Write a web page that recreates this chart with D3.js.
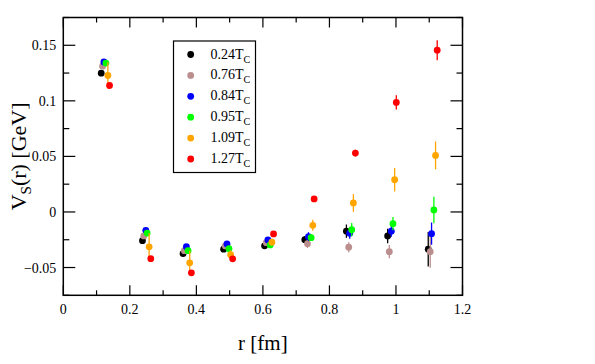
<!DOCTYPE html>
<html>
<head>
<meta charset="utf-8">
<script src="https://cdn.jsdelivr.net/npm/d3@7"></script>
<style>
  body { margin: 0; background: #fff; }
</style>
</head>
<body>
<script>
// temperatures (legend labels) and marker colours
let temps = ["0.24", "0.76", "0.84", "0.95", "1.09", "1.27"];
let colors = ["#000000", "#bc8f8f", "#0000ff", "#00ff00", "#ffa500", "#ff0000"];

// r [fm] for each series
let r_black  = [0.114, 0.238, 0.360, 0.482, 0.605, 0.726, 0.851, 0.975, 1.097];
let r_brown  = [0.118, 0.242, 0.364, 0.487, 0.610, 0.734, 0.858, 0.980, 1.103];
let r_blue   = [0.122, 0.248, 0.370, 0.492, 0.615, 0.737, 0.861, 0.986, 1.107];
let r_green  = [0.128, 0.252, 0.375, 0.498, 0.622, 0.745, 0.867, 0.991, 1.114];
let r_orange = [0.134, 0.258, 0.380, 0.503, 0.627, 0.750, 0.872, 0.996, 1.119];
let r_red    = [0.139, 0.263, 0.385, 0.509, 0.632, 0.754, 0.878, 1.001, 1.124];

// V_S(r) [GeV]
let v_black  = [0.1249, -0.0258, -0.0375, -0.0335, -0.0305, -0.0249, -0.0173, -0.0216, -0.0335];
let v_brown  = [0.1312, -0.0216, -0.0348, -0.0306, -0.0276, -0.0285, -0.0317, -0.0357, -0.0357];
let v_blue   = [0.1350, -0.0165, -0.0312, -0.0288, -0.0252, -0.0222, -0.0191, -0.0173, -0.0195];
let v_green  = [0.1340, -0.0190, -0.0348, -0.0330, -0.0297, -0.0231, -0.0159, -0.0105, 0.0018];
let v_orange = [0.1228, -0.0314, -0.0458, -0.0384, -0.0272, -0.0120, 0.0081, 0.0290, 0.0509];
let v_red    = [0.1138, -0.0420, -0.0548, -0.0422, -0.0198, 0.0117, 0.0530, 0.0986, 0.1456];

// error bars (half length)
let e_black  = [0.002, 0.002, 0.002, 0.002, 0.002, 0.003, 0.006, 0.0065, 0.0155];
let e_brown  = [0.002, 0.002, 0.002, 0.002, 0.002, 0.004, 0.0045, 0.006, 0.0145];
let e_blue   = [0.002, 0.002, 0.002, 0.002, 0.002, 0.004, 0.005, 0.005, 0.010];
let e_green  = [0.002, 0.002, 0.002, 0.002, 0.002, 0.003, 0.006, 0.006, 0.012];
let e_orange = [0.012, 0.0125, 0.011, 0.004, 0.003, 0.005, 0.008, 0.0105, 0.0125];
let e_red    = [0.002, 0.002, 0.002, 0.002, 0.002, 0.002, 0.003, 0.0065, 0.009];

let x_ticks = [0, 0.2, 0.4, 0.6, 0.8, 1, 1.2];
let y_ticks = [-0.05, 0, 0.05, 0.1, 0.15];

let series = [
    {r: r_black, v: v_black, e: e_black},
    {r: r_brown, v: v_brown, e: e_brown},
    {r: r_blue, v: v_blue, e: e_blue},
    {r: r_green, v: v_green, e: e_green},
    {r: r_orange, v: v_orange, e: e_orange},
    {r: r_red, v: v_red, e: e_red}
];

let width = 595;
let height = 364;
let padding = {
    left: 63.3,
    right: 132.5,
    top: 17.5,
    bottom: 68.7
};

let svg = d3.select("body").append("svg")
    .attr("width", width)
    .attr("height", height)
    .attr("font-family", "'Liberation Serif', 'Times New Roman', Times, serif");

let x = d3.scaleLinear().domain([0, 1.2]).range([padding.left, width - padding.right]);
let y = d3.scaleLinear().domain([-0.075, 0.175]).range([height - padding.bottom, padding.top]);

let x0 = x.range()[0], x1 = x.range()[1];
let y0 = y.range()[0], y1 = y.range()[1];

// inward ticks on all four sides
let x_minor = d3.range(0.1, 1.2, 0.2);
let y_minor = d3.range(-0.075, 0.176, 0.05);

let ticks = svg.append("g").attr("stroke", "black").attr("stroke-width", 1.2);
x_ticks.concat(x_minor).forEach(t => {
    let len = x_ticks.includes(t) ? 10 : 5;
    ticks.append("line").attr("x1", x(t)).attr("x2", x(t)).attr("y1", y0).attr("y2", y0 - len);
    ticks.append("line").attr("x1", x(t)).attr("x2", x(t)).attr("y1", y1).attr("y2", y1 + len);
})
y_ticks.concat(y_minor).forEach(t => {
    let len = y_ticks.includes(t) ? 12 : 6;
    ticks.append("line").attr("x1", x0).attr("x2", x0 + len).attr("y1", y(t)).attr("y2", y(t));
    ticks.append("line").attr("x1", x1).attr("x2", x1 - len).attr("y1", y(t)).attr("y2", y(t));
})

svg.append("rect")
    .attr("x", x0).attr("y", y1)
    .attr("width", x1 - x0).attr("height", y0 - y1)
    .attr("fill", "none").attr("stroke", "black").attr("stroke-width", 1.5);

// tick labels
svg.append("g").selectAll("text").data(x_ticks).join("text")
    .attr("x", d => x(d)).attr("y", y0 + 19)
    .attr("text-anchor", "middle")
    .style("font-size", "14px")
    .text(d => d3.format("")(d));

svg.append("g").selectAll("text").data(y_ticks).join("text")
    .attr("x", x0 - 7).attr("y", d => y(d) + 5)
    .attr("text-anchor", "end")
    .style("font-size", "14px")
    .text(d => d == 0 ? "0" : d3.format("")(+d.toFixed(2)));

// axis titles
svg.append("text")
    .attr("x", x(0.6)).attr("y", 350)
    .attr("text-anchor", "middle")
    .style("font-size", "21px")
    .text("r [fm]");

let ylab = svg.append("text")
    .attr("transform", "translate(26," + y(0.05) + ") rotate(-90)")
    .attr("text-anchor", "middle")
    .style("font-size", "22px");
ylab.append("tspan").text("V");
ylab.append("tspan").attr("dy", 5).style("font-size", "15px").text("S");
ylab.append("tspan").attr("dy", -5).text("(r) [GeV]");

// error bars and points
series.forEach((s, i) => {
    let g = svg.append("g");
    s.r.forEach((r, j) => {
        g.append("line")
            .attr("x1", x(r)).attr("x2", x(r))
            .attr("y1", y(s.v[j] - s.e[j])).attr("y2", y(s.v[j] + s.e[j]))
            .attr("stroke", colors[i]).attr("stroke-width", 1.3);
    })
    s.r.forEach((r, j) => {
        g.append("circle")
            .attr("cx", x(r)).attr("cy", y(s.v[j]))
            .attr("r", 3.4)
            .attr("fill", colors[i]);
    })
})

// legend
let legend = svg.append("g");
legend.append("rect")
    .attr("x", 173.5).attr("y", 41)
    .attr("width", 82).attr("height", 131.5)
    .attr("fill", "white").attr("stroke", "black").attr("stroke-width", 1.2);
temps.forEach((t, i) => {
    let ly = 54.5 + i * 20.9;
    legend.append("circle").attr("cx", 190.7).attr("cy", ly).attr("r", 3.4).attr("fill", colors[i]);
    let txt = legend.append("text")
        .attr("x", 210.5).attr("y", ly + 4)
        .style("font-size", "14px");
    txt.append("tspan").text(t + "T");
    txt.append("tspan").attr("dy", 4).style("font-size", "10px").text("C");
})
</script>
</body>
</html>
